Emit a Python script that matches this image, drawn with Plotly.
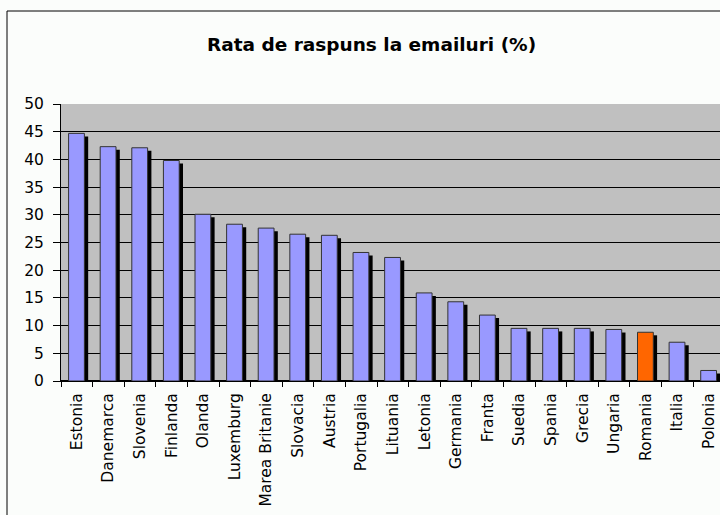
import plotly.graph_objects as go

countries = ["Estonia", "Danemarca", "Slovenia", "Finlanda", "Olanda", "Luxemburg",
             "Marea Britanie", "Slovacia", "Austria", "Portugalia", "Lituania", "Letonia",
             "Germania", "Franta", "Suedia", "Spania", "Grecia", "Ungaria", "Romania",
             "Italia", "Polonia"]
values = [44.7, 42.3, 42.1, 39.8, 30.1, 28.3, 27.6, 26.5, 26.3, 23.2, 22.3, 15.9,
          14.3, 11.9, 9.5, 9.5, 9.5, 9.3, 8.8, 7.0, 1.9]
highlight = "Romania"
y_ticks = [0, 5, 10, 15, 20, 25, 30, 35, 40, 45, 50]

base_color = "#9999FF"
hi_color = "#FF6600"
colors = [hi_color if c == highlight else base_color for c in countries]

# shadow drop in data units (~3px)
shadow_drop = 0.55
shadow_values = [max(v - shadow_drop, 0) for v in values]

fig = go.Figure()
fig.add_trace(go.Bar(
    x=countries, y=shadow_values, width=0.5, offset=-0.14,
    marker=dict(color="black", line=dict(width=0)),
    hoverinfo="skip", showlegend=False,
))
fig.add_trace(go.Bar(
    x=countries, y=values, width=0.5, offset=-0.26,
    marker=dict(color=colors, line=dict(color="#333333", width=1)),
    showlegend=False,
))

fig.update_layout(
    width=720, height=515,
    margin=dict(l=61, r=0, t=104, b=134),
    barmode="overlay",
    paper_bgcolor="#fbfdfb",
    plot_bgcolor="#C0C0C0",
    font=dict(family="DejaVu Sans, Arial, sans-serif", color="black"),
    title=dict(text="<b>Rata de raspuns la emailuri (%)</b>",
               x=0.516, xref="container", xanchor="center",
               y=1 - 45 / 515, yref="container", yanchor="middle",
               font=dict(size=18.5, color="black")),
    xaxis=dict(
        range=[-0.5, 20.35], tickangle=-90, tickson="boundaries",
        ticks="outside", ticklen=5, tickcolor="black", tickwidth=1,
        showline=True, linecolor="black", linewidth=1,
        showgrid=False, tickfont=dict(size=15.5), ticklabelstandoff=5,
    ),
    yaxis=dict(
        range=[0, 50], tickvals=y_ticks, ticks="outside", ticklen=7,
        tickcolor="black", tickwidth=1, showline=True, linecolor="black",
        linewidth=1, showgrid=True, gridcolor="black", gridwidth=1,
        zeroline=True, zerolinecolor="black", tickfont=dict(size=15.5),
        ticklabelstandoff=6,
    ),
    shapes=[dict(type="rect", xref="paper", yref="paper",
                 x0=(7 - 61) / 659, x1=1.05, y0=-0.6, y1=(381 - 11) / 277,
                 line=dict(color="black", width=1), fillcolor="rgba(0,0,0,0)",
                 layer="below")],
)

fig.write_html("out.html", config={"displayModeBar": False},
               post_script="document.body.style.margin='0';")
